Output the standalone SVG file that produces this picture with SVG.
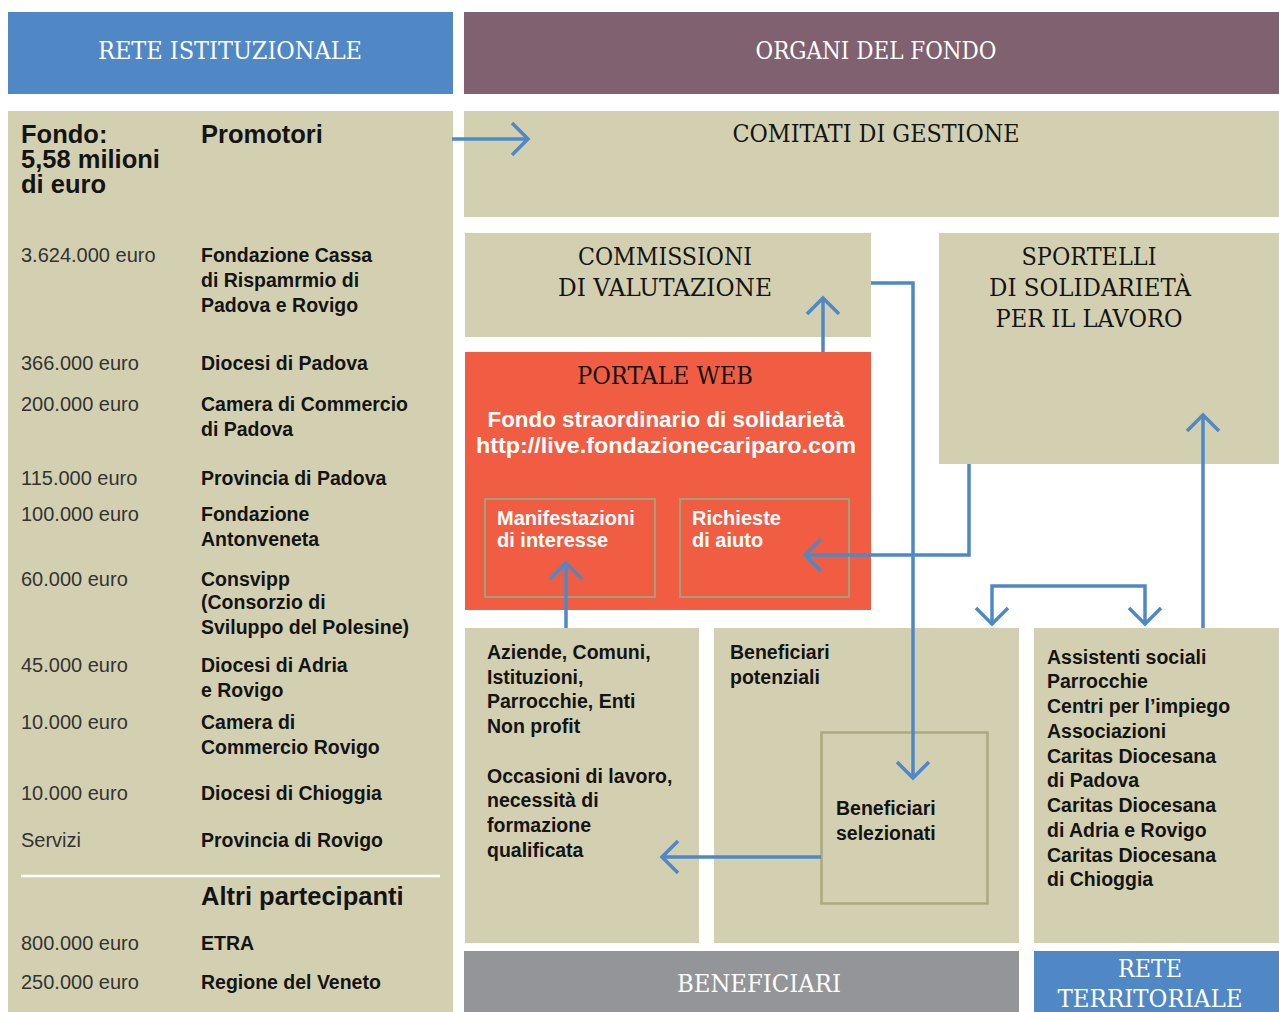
<svg xmlns="http://www.w3.org/2000/svg" width="1279" height="1012" viewBox="0 0 1279 1012">
  <style>
    .panel { fill: #d3d0b1; }
    .blue { fill: #5088c6; }
    .hd { font-family: "DejaVu Serif Condensed", "DejaVu Serif", serif; font-stretch: condensed; font-size: 24px; text-anchor: middle; }
    .hd-w { fill: #ffffff; }
    .hd-k { fill: #141414; }
    .b { font-family: "Liberation Sans", Arial, sans-serif; font-weight: bold; font-size: 19.5px; fill: #141414; }
    .big { font-size: 25.5px; }
    .amt { font-family: "Liberation Sans", Arial, sans-serif; font-size: 20px; fill: #333333; }
    .wb { font-family: "Liberation Sans", Arial, sans-serif; font-weight: bold; font-size: 20px; fill: #ffffff; }
    .portal { font-size: 21.5px; text-anchor: middle; }
    .sub { fill: none; stroke: #a39f7c; stroke-width: 2; }
    .conn { fill: none; stroke: #4f88c6; stroke-width: 3.5; }
  </style>
  <defs>
    <marker id="chev" markerUnits="userSpaceOnUse" orient="auto-start-reverse" overflow="visible" markerWidth="1" markerHeight="1" refX="0" refY="0">
      <path d="M-16,-16 L0,0 L-16,16" fill="none" stroke="#4f88c6" stroke-width="3.5"/>
    </marker>
  </defs>

  <rect width="1279" height="1012" fill="#ffffff"/>

  <!-- column headers -->
  <g id="rete-istituzionale">
    <rect class="blue" x="8" y="12" width="445" height="82"/>
    <text class="hd hd-w" x="230" y="59" textLength="264" lengthAdjust="spacingAndGlyphs">RETE ISTITUZIONALE</text>
  </g>
  <g id="organi-del-fondo">
    <rect x="464" y="12" width="815" height="82" fill="#7f6170"/>
    <text class="hd hd-w" x="876" y="59" textLength="241" lengthAdjust="spacingAndGlyphs">ORGANI DEL FONDO</text>
  </g>

  <!-- funding partners -->
  <g id="fondo">
    <rect class="panel" x="8" y="111" width="445" height="901"/>
    <text class="b big" x="21" y="143">Fondo:</text>
    <text class="b big" x="21" y="168">5,58 milioni</text>
    <text class="b big" x="21" y="193">di euro</text>
    <text class="b big" x="201" y="143">Promotori</text>

    <text class="amt" x="21" y="262">3.624.000 euro</text>
    <text class="b" x="201" y="262">Fondazione Cassa</text>
    <text class="b" x="201" y="287">di Rispamrmio di</text>
    <text class="b" x="201" y="312">Padova e Rovigo</text>

    <text class="amt" x="21" y="370">366.000 euro</text>
    <text class="b" x="201" y="370">Diocesi di Padova</text>

    <text class="amt" x="21" y="411">200.000 euro</text>
    <text class="b" x="201" y="411">Camera di Commercio</text>
    <text class="b" x="201" y="436">di Padova</text>

    <text class="amt" x="21" y="485">115.000 euro</text>
    <text class="b" x="201" y="485">Provincia di Padova</text>

    <text class="amt" x="21" y="521">100.000 euro</text>
    <text class="b" x="201" y="521">Fondazione</text>
    <text class="b" x="201" y="546">Antonveneta</text>

    <text class="amt" x="21" y="586">60.000 euro</text>
    <text class="b" x="201" y="586">Consvipp</text>
    <text class="b" x="201" y="609">(Consorzio di</text>
    <text class="b" x="201" y="634">Sviluppo del Polesine)</text>

    <text class="amt" x="21" y="672">45.000 euro</text>
    <text class="b" x="201" y="672">Diocesi di Adria</text>
    <text class="b" x="201" y="697">e Rovigo</text>

    <text class="amt" x="21" y="729">10.000 euro</text>
    <text class="b" x="201" y="729">Camera di</text>
    <text class="b" x="201" y="754">Commercio Rovigo</text>

    <text class="amt" x="21" y="800">10.000 euro</text>
    <text class="b" x="201" y="800">Diocesi di Chioggia</text>

    <text class="amt" x="21" y="847">Servizi</text>
    <text class="b" x="201" y="847">Provincia di Rovigo</text>

    <line x1="21" y1="876" x2="440" y2="876" stroke="#ffffff" stroke-width="2.5"/>
    <text class="b big" x="201" y="905">Altri partecipanti</text>

    <text class="amt" x="21" y="950">800.000 euro</text>
    <text class="b" x="201" y="950">ETRA</text>
    <text class="amt" x="21" y="989">250.000 euro</text>
    <text class="b" x="201" y="989">Regione del Veneto</text>
  </g>

  <!-- fund bodies -->
  <g id="comitati">
    <rect class="panel" x="464" y="111" width="815" height="106"/>
    <text class="hd hd-k" x="876" y="142" textLength="287" lengthAdjust="spacingAndGlyphs">COMITATI DI GESTIONE</text>
  </g>
  <g id="commissioni">
    <rect class="panel" x="465" y="233" width="406" height="104"/>
    <text class="hd hd-k" x="665" y="265" textLength="174" lengthAdjust="spacingAndGlyphs">COMMISSIONI</text>
    <text class="hd hd-k" x="665" y="296" textLength="214" lengthAdjust="spacingAndGlyphs">DI VALUTAZIONE</text>
  </g>
  <g id="sportelli">
    <rect class="panel" x="939" y="233" width="340" height="231"/>
    <text class="hd hd-k" x="1089" y="265" textLength="135" lengthAdjust="spacingAndGlyphs">SPORTELLI</text>
    <text class="hd hd-k" x="1090" y="296" textLength="202" lengthAdjust="spacingAndGlyphs">DI SOLIDARIETÀ</text>
    <text class="hd hd-k" x="1089" y="327" textLength="187" lengthAdjust="spacingAndGlyphs">PER IL LAVORO</text>
  </g>

  <g id="portale-web">
    <rect x="465" y="352" width="406" height="258" fill="#f15d42"/>
    <text class="hd hd-k" x="665" y="384" textLength="176" lengthAdjust="spacingAndGlyphs">PORTALE WEB</text>
    <text class="wb portal" x="666" y="427" textLength="357" lengthAdjust="spacingAndGlyphs">Fondo straordinario di solidarietà</text>
    <text class="wb portal" x="666" y="453" textLength="380" lengthAdjust="spacingAndGlyphs">http://live.fondazionecariparo.com</text>
  </g>
  <g id="manifestazioni">
    <rect class="sub" x="485" y="499" width="170" height="98"/>
    <text class="wb" x="497" y="525">Manifestazioni</text>
    <text class="wb" x="497" y="547">di interesse</text>
  </g>
  <g id="richieste">
    <rect class="sub" x="680" y="499" width="169" height="98"/>
    <text class="wb" x="692" y="525">Richieste</text>
    <text class="wb" x="692" y="547">di aiuto</text>
  </g>

  <!-- beneficiaries -->
  <g id="aziende">
    <rect class="panel" x="465" y="628" width="234" height="315"/>
    <text class="b" x="487" y="659">Aziende, Comuni,</text>
    <text class="b" x="487" y="684">Istituzioni,</text>
    <text class="b" x="487" y="708">Parrocchie, Enti</text>
    <text class="b" x="487" y="733">Non profit</text>
    <text class="b" x="487" y="783">Occasioni di lavoro,</text>
    <text class="b" x="487" y="807">necessità di</text>
    <text class="b" x="487" y="832">formazione</text>
    <text class="b" x="487" y="857">qualificata</text>
  </g>
  <g id="beneficiari-potenziali">
    <rect class="panel" x="714" y="628" width="305" height="315"/>
    <text class="b" x="730" y="659">Beneficiari</text>
    <text class="b" x="730" y="684">potenziali</text>
  </g>
  <g id="beneficiari-selezionati">
    <rect x="821.5" y="732.5" width="166" height="171" fill="none" stroke="#aca882" stroke-width="2.5"/>
    <text class="b" x="836" y="815">Beneficiari</text>
    <text class="b" x="836" y="840">selezionati</text>
  </g>
  <g id="rete-locale">
    <rect class="panel" x="1034" y="628" width="245" height="315"/>
    <text class="b" x="1047" y="664">Assistenti sociali</text>
    <text class="b" x="1047" y="688">Parrocchie</text>
    <text class="b" x="1047" y="713">Centri per l’impiego</text>
    <text class="b" x="1047" y="738">Associazioni</text>
    <text class="b" x="1047" y="763">Caritas Diocesana</text>
    <text class="b" x="1047" y="787">di Padova</text>
    <text class="b" x="1047" y="812">Caritas Diocesana</text>
    <text class="b" x="1047" y="837">di Adria e Rovigo</text>
    <text class="b" x="1047" y="862">Caritas Diocesana</text>
    <text class="b" x="1047" y="886">di Chioggia</text>
  </g>

  <!-- footer labels -->
  <g id="beneficiari">
    <rect x="464" y="951" width="555" height="61" fill="#939598"/>
    <text class="hd hd-w" x="759" y="992" textLength="164" lengthAdjust="spacingAndGlyphs">BENEFICIARI</text>
  </g>
  <g id="rete-territoriale">
    <rect class="blue" x="1034" y="951" width="245" height="61"/>
    <text class="hd hd-w" x="1150" y="977" textLength="64" lengthAdjust="spacingAndGlyphs">RETE</text>
    <text class="hd hd-w" x="1150" y="1007" textLength="185" lengthAdjust="spacingAndGlyphs">TERRITORIALE</text>
  </g>

  <!-- connectors -->
  <g id="connectors">
    <path class="conn" d="M452,139 H528" marker-end="url(#chev)"/>
    <path class="conn" d="M823,352 V298" marker-end="url(#chev)"/>
    <path class="conn" d="M871,283 H913 V778" marker-end="url(#chev)"/>
    <path class="conn" d="M969,464 V555 H805" marker-end="url(#chev)"/>
    <path class="conn" d="M566,628 V563" marker-end="url(#chev)"/>
    <path class="conn" d="M821,857 H662" marker-end="url(#chev)"/>
    <path class="conn" d="M992,624 V586 H1145 V624" marker-start="url(#chev)" marker-end="url(#chev)"/>
    <path class="conn" d="M1203,628 V415" marker-end="url(#chev)"/>
  </g>
</svg>
